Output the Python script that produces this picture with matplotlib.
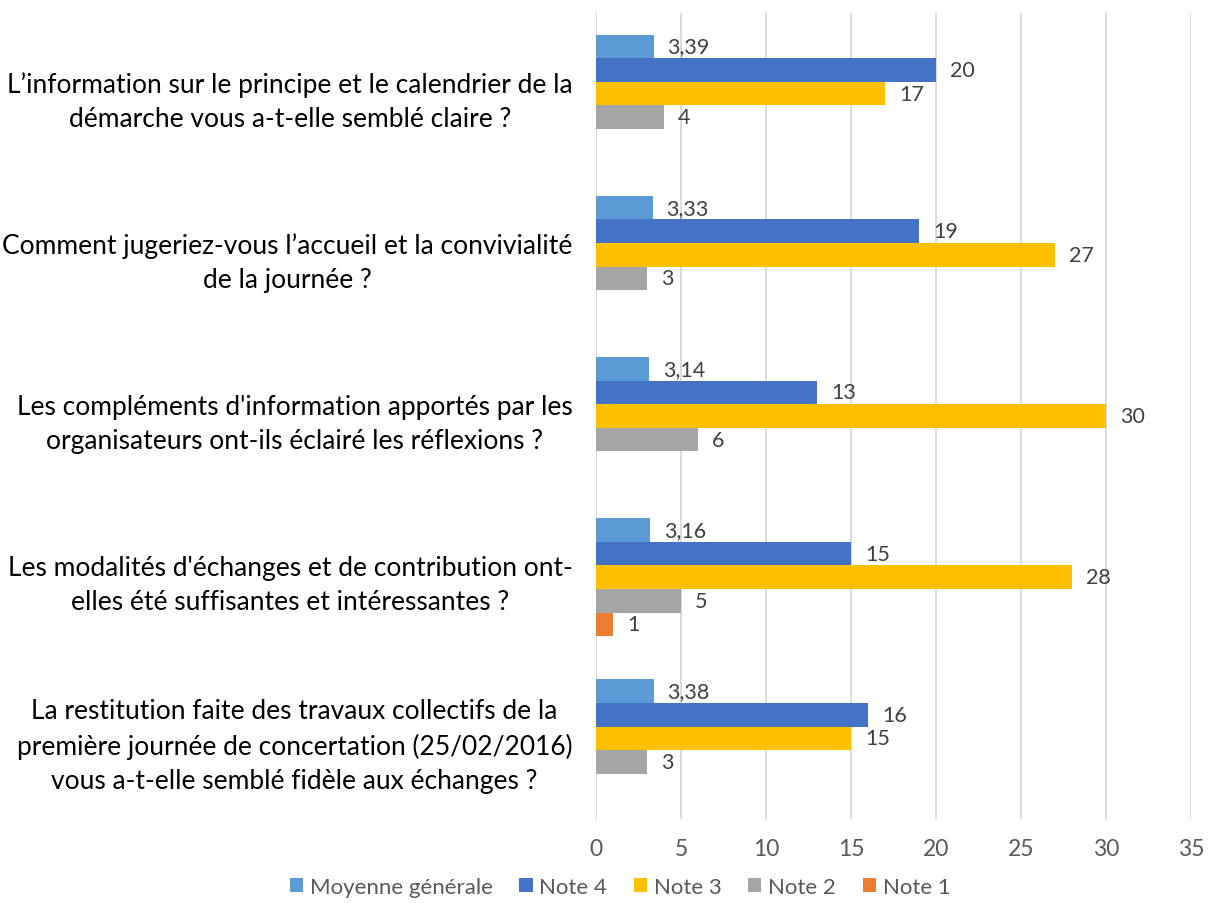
import matplotlib.pyplot as plt
import numpy as np

plt.rcParams['font.family'] = ['Lato', 'DejaVu Sans']

questions = [
    "L\u2019information sur le principe et le calendrier de la\ndémarche vous a-t-elle semblé claire ?",
    "Comment jugeriez-vous l\u2019accueil et la convivialité\nde la journée ?",
    "Les compléments d'information apportés par les\norganisateurs ont-ils éclairé les réflexions ?",
    "Les modalités d'échanges et de contribution ont-\nelles été suffisantes et intéressantes ?",
    "La restitution faite des travaux collectifs de la\npremière journée de concertation (25/02/2016)\nvous a-t-elle semblé fidèle aux échanges ?",
]
moyenne = [3.39, 3.33, 3.14, 3.16, 3.38]
note4 = [20, 19, 13, 15, 16]
note3 = [17, 27, 30, 28, 15]
note2 = [4, 3, 6, 5, 3]
note1 = [0, 0, 0, 1, 0]

series = [
    ("Moyenne générale", moyenne, "#5B9BD5"),
    ("Note 4", note4, "#4472C4"),
    ("Note 3", note3, "#FFC000"),
    ("Note 2", note2, "#A5A5A5"),
    ("Note 1", note1, "#ED7D31"),
]

fig = plt.figure(figsize=(12.11, 9.04), dpi=100)
ax = fig.add_axes([0.4922, 0.0929, 0.4913, 0.8916])

h = 0.1464
centers = np.arange(len(questions)) + 0.5
for j, (name, vals, col) in enumerate(series):
    ys = centers + (j - 2) * h
    ax.barh(ys, vals, height=h, color=col, label=name, zorder=3)
    for y, v in zip(ys, vals):
        if v == 0:
            continue
        txt = f"{v:.2f}".replace('.', ',') if isinstance(v, float) else str(v)
        ax.annotate(txt, (v, y), xytext=(10, 0), textcoords='offset points',
                    ha='left', va='center', fontsize=15.5, color='#404040')

ax.set_ylim(len(questions), 0)
ax.set_xlim(0, 35)
ax.set_xticks(range(0, 36, 5))
ax.set_yticks(centers)
ax.set_yticklabels(questions, fontsize=19, color='#000000',
                   multialignment='center', linespacing=1.45)
ax.tick_params(axis='y', length=0, pad=17)
ax.tick_params(axis='x', length=0, pad=14, labelsize=16.5, labelcolor='#595959')
ax.grid(axis='x', color='#D9D9D9', linewidth=1.3, zorder=0)
for s in ax.spines.values():
    s.set_visible(False)

fig.legend(loc='center', bbox_to_anchor=(0.512, 0.0177), ncol=5, frameon=False,
           fontsize=16, labelcolor='#595959', handlelength=0.6, handleheight=0.6,
           handletextpad=0.3, columnspacing=1.2)

fig.savefig('out.png', dpi=100)
